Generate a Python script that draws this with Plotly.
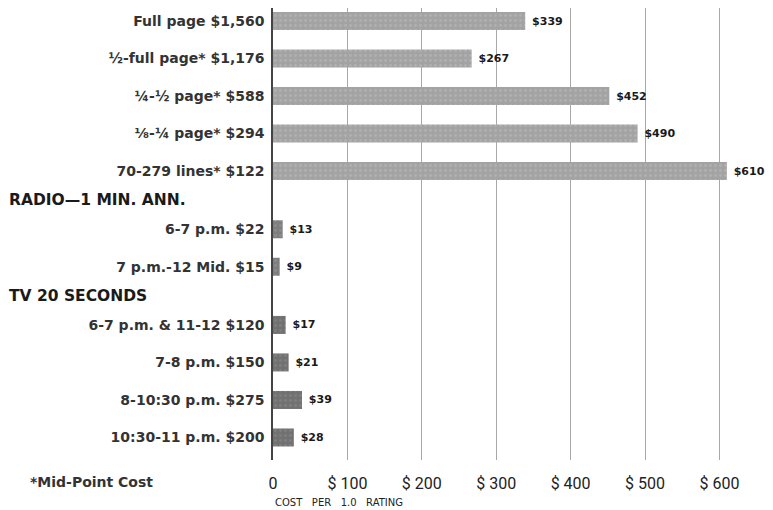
import plotly.graph_objects as go

# ---- data ----
print_labels = ["Full page $1,560", "½-full page* $1,176", "¼-½ page* $588",
                "⅛-¼ page* $294", "70-279 lines* $122"]
print_values = [339, 267, 452, 490, 610]

radio_header = "RADIO—1 MIN. ANN."
radio_labels = ["6-7 p.m. $22", "7 p.m.-12 Mid. $15"]
radio_values = [13, 9]

tv_header = "TV 20 SECONDS"
tv_labels = ["6-7 p.m. & 11-12 $120", "7-8 p.m. $150", "8-10:30 p.m. $275",
             "10:30-11 p.m. $200"]
tv_values = [17, 21, 39, 28]

x_ticks = [0, 100, 200, 300, 400, 500, 600]
x_ticktext = ["0", "$ 100", "$ 200", "$ 300", "$ 400", "$ 500", "$ 600"]

groups = [
    (None, print_labels, print_values, "#a3a3a3", "#bdbdbd"),
    (radio_header, radio_labels, radio_values, "#7e7e7e", "#9a9a9a"),
    (tv_header, tv_labels, tv_values, "#717171", "#8e8e8e"),
]

HEADER_GAP = 0.55
HEADER_OFFSET = 0.77

LABEL_FONT = "DejaVu Sans"
fig = go.Figure()
tickvals, ticktext = [], []
annotations = []
pos = 0.0
for header, labels, values, color, speck in groups:
    if header:
        annotations.append(dict(
            x=-0.532, y=pos - 1 + HEADER_OFFSET, xref="paper", yref="y",
            text=header, showarrow=False, xanchor="left", yanchor="middle",
            font=dict(family=LABEL_FONT, size=15.5, color="#1a1a1a", weight=700)))
        pos += HEADER_GAP
    ys = []
    for lab in labels:
        ys.append(pos)
        tickvals.append(pos)
        ticktext.append(lab)
        pos += 1
    fig.add_trace(go.Bar(
        x=values, y=ys, orientation="h", width=0.48,
        marker=dict(color=color, line=dict(width=0),
                    pattern=dict(shape=".", fgcolor=speck, bgcolor=color,
                                 size=5, solidity=0.25)),
        text=[f" ${v}" for v in values], textposition="outside",
        textfont=dict(family=LABEL_FONT, size=11, color="#1a1a1a", weight=700),
        cliponaxis=False, showlegend=False, hoverinfo="skip"))

annotations.append(dict(
    x=-0.49, y=-0.0487, xref="paper", yref="paper",
    text="*Mid-Point Cost", showarrow=False, xanchor="left", yanchor="middle",
    font=dict(family=LABEL_FONT, size=14, color="#333", weight=700)))
annotations.append(dict(
    x=0.0, y=-0.094, xref="paper", yref="paper",
    text="COST   PER   1.0   RATING", showarrow=False,
    xanchor="left", yanchor="middle",
    font=dict(family=LABEL_FONT, size=10, color="#222")))

fig.update_layout(
    width=765, height=502,
    margin=dict(l=265, r=0, t=0, b=50),
    paper_bgcolor="white", plot_bgcolor="white",
    xaxis=dict(range=[0, 672], tickvals=x_ticks, ticktext=x_ticktext,
               showgrid=True, gridcolor="#a8a8a8", gridwidth=1,
               zeroline=False, showline=False, ticks="",
               ticklabelstandoff=12,
               tickfont=dict(family="Roboto", size=16, color="#222"),
               fixedrange=True),
    yaxis=dict(range=[11.7, -0.347], tickvals=tickvals, ticktext=ticktext,
               showgrid=False, zeroline=False, showline=True,
               linecolor="#444", linewidth=1.5, ticks="",
               ticklabelstandoff=4,
               tickfont=dict(family=LABEL_FONT, size=14, color="#333",
                             weight=700),
               fixedrange=True),
    annotations=annotations,
)

fig.write_html("out.html")
